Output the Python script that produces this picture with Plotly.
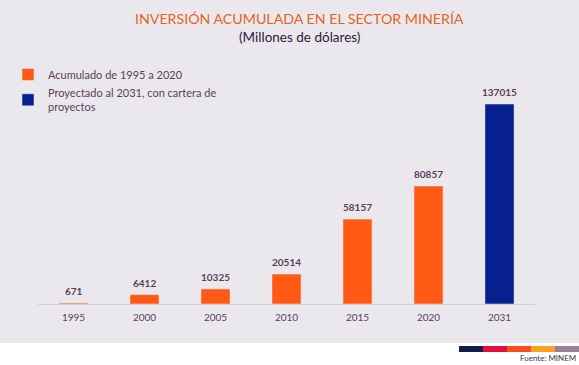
import plotly.graph_objects as go

years = ["1995", "2000", "2005", "2010", "2015", "2020", "2031"]
values = [671, 6412, 10325, 20514, 58157, 80857, 137015]
pos = list(range(len(years)))
hist_pos, hist_values = pos[:6], values[:6]
proj_pos, proj_values = pos[6:], values[6:]

ORANGE = "#ff5a14"
BLUE = "#06208f"
TXT = "#5a3d5c"
BG = "#ebe8ed"

fig = go.Figure()
fig.add_trace(go.Bar(x=hist_pos, y=hist_values, marker_color=ORANGE, width=0.41,
                     name="Acumulado de 1995 a 2020", legendgroup="a"))
fig.add_trace(go.Bar(x=proj_pos, y=proj_values, marker_color=BLUE, width=0.41,
                     name="Proyectado al 2031, con cartera de<br>proyectos", legendgroup="b"))

for p, v in zip(pos, values):
    fig.add_annotation(x=p, y=v, xref="x", yref="y", text=f"<b>{v}</b>", showarrow=False,
                       yanchor="bottom", yshift=4,
                       font=dict(size=10, color=TXT, family="Lato"))

W, H = 579, 365
L, R, T, B = 38, 44, 104, 61
pw, ph = W - L - R, H - T - B

def px(x):
    return (x - L) / pw

def py(y):
    return (H - B - y) / ph

fig.add_shape(type="rect", xref="paper", yref="paper", x0=px(-30), x1=px(W + 30),
              y0=py(H + 30), y1=py(343), fillcolor="white", line_width=0, layer="below")
strip = ["#0f1d4a", "#e0103c", "#f6501e", "#fba020", "#9a7f96"]
edges = [459, 483, 507, 531, 555, 579]
for i, c in enumerate(strip):
    fig.add_shape(type="rect", xref="paper", yref="paper", x0=px(edges[i]), x1=px(edges[i + 1]),
                  y0=py(352), y1=py(346), fillcolor=c, line_width=0)

fig.add_annotation(xref="paper", yref="paper", x=px(578), y=py(358), text="Fuente: MINEM",
                   showarrow=False, xanchor="right", yanchor="middle",
                   font=dict(size=8, color="#3a3a4a", family="Lato"))
fig.add_annotation(xref="paper", yref="paper", x=px(299), y=py(18),
                   text="INVERSIÓN ACUMULADA EN EL SECTOR MINERÍA", showarrow=False,
                   xanchor="center", yanchor="middle",
                   font=dict(size=14.2, color="#e2641e", family="Lato"))
fig.add_annotation(xref="paper", yref="paper", x=px(299), y=py(37),
                   text="(Millones de dólares)", showarrow=False,
                   xanchor="center", yanchor="middle",
                   font=dict(size=13.5, color="#2a1a3a", family="Lato"))

fig.update_layout(
    width=W, height=H,
    margin=dict(l=L, r=R, t=T, b=B, autoexpand=False),
    paper_bgcolor=BG, plot_bgcolor=BG,
    barmode="overlay",
    font=dict(family="Lato", color=TXT),
    showlegend=True,
    legend=dict(x=px(8), y=py(60), xanchor="left", yanchor="top",
                bgcolor="rgba(0,0,0,0)", font=dict(size=11, color=TXT),
                tracegroupgap=0, itemwidth=30),
    xaxis=dict(range=[-0.5, 6.5], tickmode="array", tickvals=pos, ticktext=years,
               showline=True, linecolor="#d2ced4", linewidth=1, showgrid=False, zeroline=False,
               ticks="outside", ticklen=4, tickcolor="rgba(0,0,0,0)",
               tickfont=dict(size=10, color=TXT, family="Lato")),
    yaxis=dict(range=[0, 137015], visible=False, showgrid=False, zeroline=False),
)

fig.write_html("out.html", config={"displayModeBar": False},
               post_script="document.body.style.margin='0';document.body.style.overflow='hidden';")
